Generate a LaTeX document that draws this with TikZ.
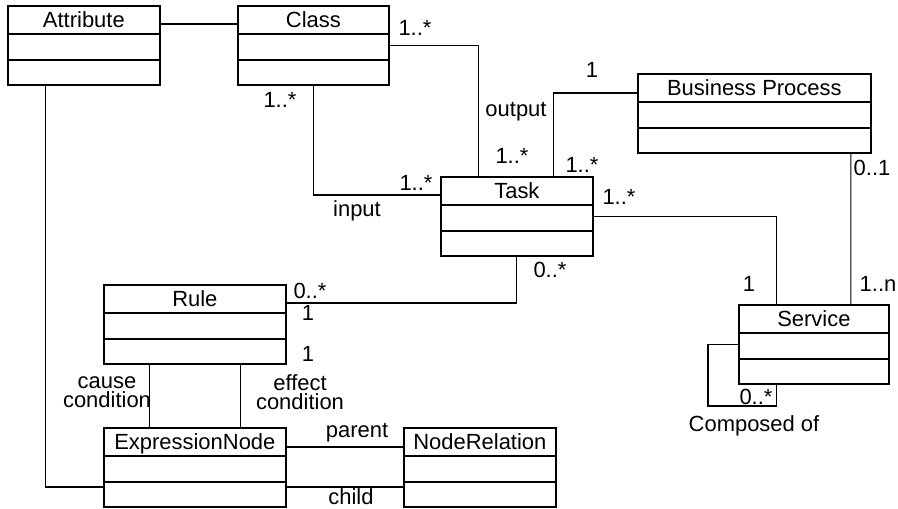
\documentclass[tikz,border=0pt]{standalone}
\usepackage{fontspec}
\setmainfont{Liberation Sans}
\usepackage{tikz}

\def\umlfont{\fontsize{12.5}{11}\selectfont}

\tikzset{
    umlclass/.style={draw=black, line width=1pt, anchor=north west,
        minimum height=1.58cm, inner ysep=0pt,
        text height=0.44cm, text depth=1.14cm, font=\umlfont,
        path picture={
            \draw[line width=1pt] ([yshift=-0.56cm]path picture bounding box.north west)
                -- ([yshift=-0.56cm]path picture bounding box.north east);
            \draw[line width=1pt] ([yshift=-1.08cm]path picture bounding box.north west)
                -- ([yshift=-1.08cm]path picture bounding box.north east);
        }},
    assoc/.style={draw=black, line width=0.6pt},
    mult/.style={font=\umlfont, inner sep=0pt, align=center}
}

\begin{document}
\begin{tikzpicture}[x=0.02cm, y=-0.02cm]
    \useasboundingbox (0,0) rectangle (898,508);

    % Classes
    \node[umlclass, minimum width=3.04cm] (attribute) at (7,5) {Attribute};
    \node[umlclass, minimum width=3.02cm] (class) at (237,5) {Class};
    \node[umlclass, minimum width=3.04cm] (task) at (440,176) {Task};
    \node[umlclass, minimum width=4.66cm] (process) at (637,73) {Business Process};
    \node[umlclass, minimum width=3.00cm] (service) at (738,304) {Service};
    \node[umlclass, minimum width=3.64cm] (rule) at (103,284) {Rule};
    \node[umlclass, minimum width=3.64cm] (exprnode) at (103,427) {ExpressionNode};
    \node[umlclass, minimum width=3.04cm] (noderel) at (403,427) {NodeRelation};

    % Associations
    \draw[assoc] ([yshift=-0.38cm]attribute.north east) -- ([yshift=-0.38cm]class.north west);
    \draw[assoc] (class.east) -| ([xshift=-0.76cm]task.north);
    \draw[assoc] (class.south) |- ([yshift=-0.38cm]task.north west);
    \draw[assoc] ([xshift=0.74cm]task.north) |- ([yshift=-0.40cm]process.north west);
    \draw[assoc] (task.east) -| ([xshift=-0.74cm]service.north);
    \draw[assoc] ([xshift=1.93cm]process.south) -- ([xshift=0.74cm]service.north);
    \draw[assoc] (task.south) |- ([yshift=-0.38cm]rule.north east);
    \draw[assoc] ([xshift=-0.91cm]rule.south) -- ([xshift=-0.91cm]exprnode.north);
    \draw[assoc] ([xshift=0.91cm]rule.south) -- ([xshift=0.91cm]exprnode.north);
    \draw[assoc] ([yshift=-0.40cm]exprnode.north east) -- ([yshift=-0.40cm]noderel.north west);
    \draw[assoc] ([yshift=-1.20cm]exprnode.north east) -- ([yshift=-1.20cm]noderel.north west);
    \draw[assoc] ([xshift=-0.76cm]attribute.south) |- ([yshift=-1.20cm]exprnode.north west);

    % Service composed of services
    \coordinate (loopcorner) at (708,406);
    \draw[assoc] (service.west) -| (loopcorner) -| ([xshift=-0.74cm]service.south);

    % Multiplicities and role names
    \node[mult] (m1) at (415,28) {1..*};
    \node[mult] (m2) at (280,100) {1..*};
    \node[mult] (m3) at (416,183) {1..*};
    \node[mult] (r1) at (357,211) {input};
    \node[mult] (r2) at (516,112) {output};
    \node[mult] (m4) at (512,156) {1..*};
    \node[mult] (m5) at (582,165) {1..*};
    \node[mult] (m6) at (592,70) {1};
    \node[mult] (m7) at (619,197) {1..*};
    \node[mult] (m8) at (872,168) {0..1};
    \node[mult] (m9) at (550,270) {0..*};
    \node[mult] (m10) at (749,284) {1};
    \node[mult] (m11) at (878,284) {1..n};
    \node[mult] (m12) at (310,291) {0..*};
    \node[mult] (m13) at (308,313) {1};
    \node[mult] (m14) at (308,354) {1};
    \node[mult] (r3) at (107,392) {cause\\condition};
    \node[mult] (r4) at (300,392) {effect\\condition};
    \node[mult] (r5) at (357,433) {parent};
    \node[mult] (r6) at (351,497) {child};
    \node[mult] (m15) at (756,397) {0..*};
    \node[mult] (r7) at (754,426) {Composed of};

\end{tikzpicture}
\end{document}
